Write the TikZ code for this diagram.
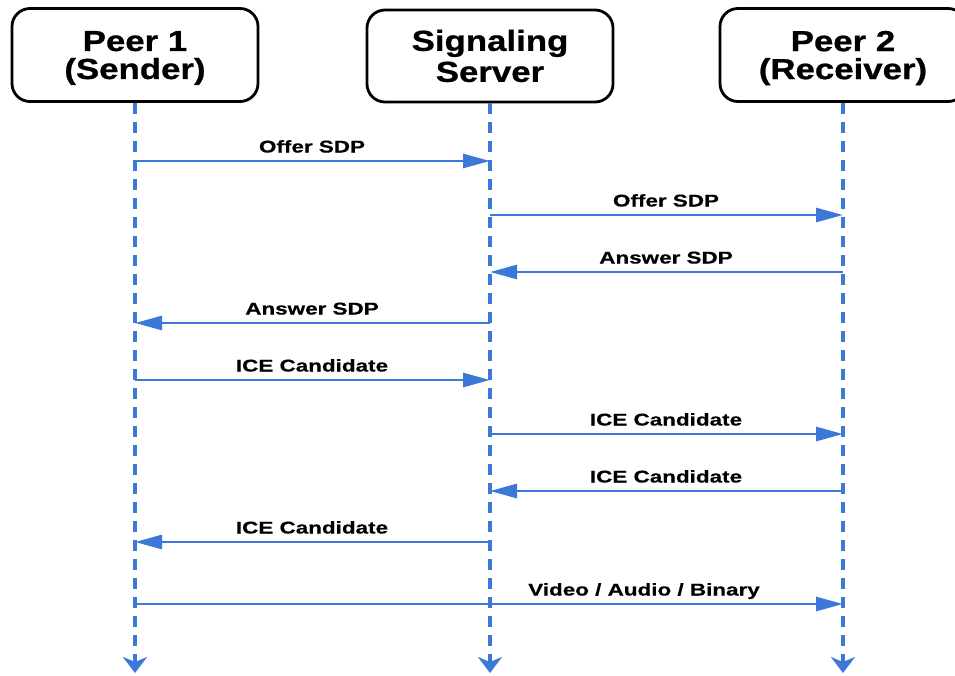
\documentclass[tikz,border=0pt]{standalone}
\usepackage{fontspec}
\usetikzlibrary{arrows.meta}
\newfontfamily\headfont{Liberation Sans Bold}[FakeStretch=1.2,FakeBold=0.8]
\newfontfamily\labfont{Liberation Sans Bold}[FakeStretch=1.32,FakeBold=0.5]
\definecolor{lineblue}{RGB}{59,120,216}
\tikzset{
  actor/.style={draw=black, line width=2.8pt, rounded corners=18pt, minimum width=246pt,
    minimum height=93pt, align=center, inner sep=0pt,
    font=\headfont\fontsize{29}{30}\selectfont},
  lifeline/.style={draw=lineblue, line width=3.6pt, dash pattern=on 11pt off 8pt,
    -{Stealth[length=16pt,width=24pt,inset=5pt,sep=0pt]}},
  msg/.style={draw=lineblue, line width=2.8pt, -{Triangle[length=27pt,width=14pt]}},
  msglabel/.style={anchor=base, inner sep=0pt, font=\labfont\fontsize{17}{18}\selectfont}
}
\begin{document}
\begin{tikzpicture}[x=1pt,y=-1pt]
\useasboundingbox (0,0) rectangle (955,675);
% actors
\node[actor, text depth=-8pt] (p1) at (135,55) {Peer 1\\[-2pt](Sender)};
\node[actor, minimum height=92pt] (srv) at (490,56) {Signaling\\[1pt]Server};
\node[actor, text depth=-8pt] (p2) at (843,55) {Peer 2\\[-2pt](Receiver)};
% lifeline ends
\coordinate (p1end) at (135,673);
\coordinate (srvend) at (490,673);
\coordinate (p2end) at (843,673);
\draw[lifeline] (p1.south) -- (p1end);
\draw[lifeline] (srv.south) -- (srvend);
\draw[lifeline] (p2.south) -- (p2end);
% message end points
\foreach \n/\y in {1/161,2/215,3/272,4/323,5/380,6/434,7/491,8/542,9/604}{
  \coordinate (a\n) at (135,\y);
  \coordinate (b\n) at (490,\y);
  \coordinate (c\n) at (843,\y);
}
\draw[msg] (a1) -- (b1);
\node[msglabel] (l1) at (312,152.5) {Offer SDP};
\draw[msg] (b2) -- (c2);
\node[msglabel] (l2) at (666,206.5) {Offer SDP};
\draw[msg] (c3) -- (b3);
\node[msglabel] (l3) at (666,263.5) {Answer SDP};
\draw[msg] (b4) -- (a4);
\node[msglabel] (l4) at (312,314.5) {Answer SDP};
\draw[msg] (a5) -- (b5);
\node[msglabel] (l5) at (312,371.5) {ICE Candidate};
\draw[msg] (b6) -- (c6);
\node[msglabel] (l6) at (666,425.5) {ICE Candidate};
\draw[msg] (c7) -- (b7);
\node[msglabel] (l7) at (666,482.5) {ICE Candidate};
\draw[msg] (b8) -- (a8);
\node[msglabel] (l8) at (312,533.5) {ICE Candidate};
\draw[msg] (a9) -- (c9);
\node[msglabel] (l9) at (644,595.5) {Video / Audio / Binary};
\end{tikzpicture}
\end{document}
